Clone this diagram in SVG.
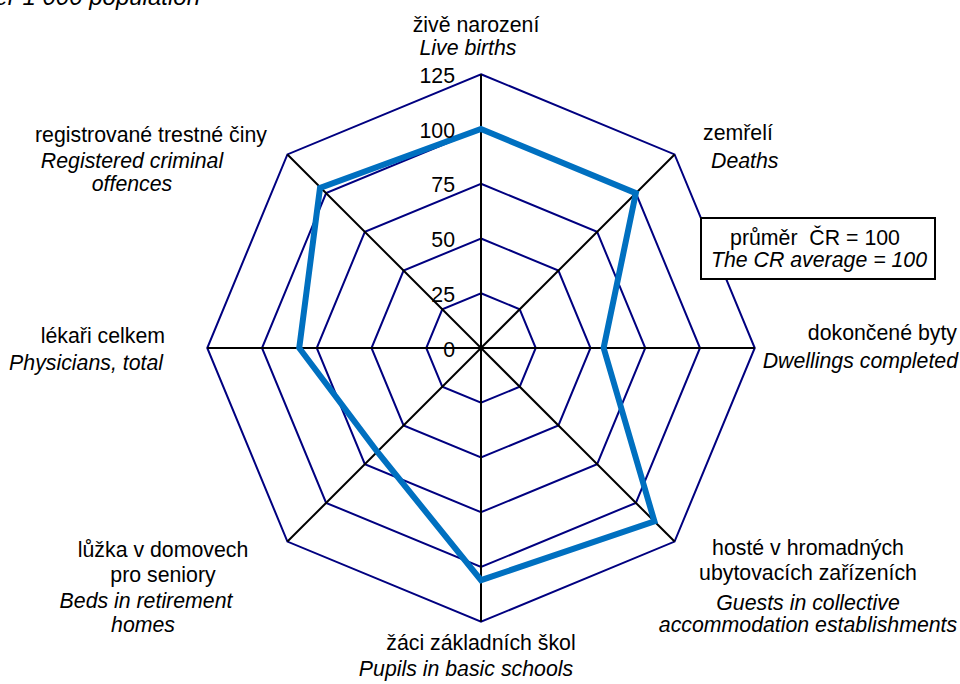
<svg xmlns="http://www.w3.org/2000/svg" width="960" height="684" viewBox="0 0 960 684">
<style>
text{font-family:"Liberation Sans",Arial,sans-serif;font-size:21.3px;fill:#000}
.i{font-style:italic}
.c{text-anchor:middle}
.e{text-anchor:end}
.ring{fill:none;stroke:#000080;stroke-width:2}
.axis{stroke:#000;stroke-width:2}
.data{fill:none;stroke:#0070C0;stroke-width:6;stroke-linejoin:miter}
</style>
<rect width="960" height="684" fill="#fff"/>
<text class="i e" x="200" y="5" style="font-size:24px">per 1 000 population</text>
<g id="rings">
<polygon class="ring" points="481,293.25 519.71,309.29 535.75,348 519.71,386.71 481,402.75 442.29,386.71 426.25,348 442.29,309.29"/>
<polygon class="ring" points="481,238.5 558.43,270.57 590.5,348 558.43,425.43 481,457.5 403.57,425.43 371.5,348 403.57,270.57"/>
<polygon class="ring" points="481,183.75 597.14,231.86 645.25,348 597.14,464.14 481,512.25 364.86,464.14 316.75,348 364.86,231.86"/>
<polygon class="ring" points="481,129 635.86,193.14 700,348 635.86,502.86 481,567 326.14,502.86 262,348 326.14,193.14"/>
<polygon class="ring" points="481,74.25 674.57,154.43 754.75,348 674.57,541.57 481,621.75 287.43,541.57 207.25,348 287.43,154.43"/>
</g>
<g id="connectors">
<line class="axis" x1="481" y1="348" x2="481" y2="74.25"/>
<line class="axis" x1="481" y1="348" x2="674.57" y2="154.43"/>
<line class="axis" x1="481" y1="348" x2="754.75" y2="348"/>
<line class="axis" x1="481" y1="348" x2="674.57" y2="541.57"/>
<line class="axis" x1="481" y1="348" x2="481" y2="621.75"/>
<line class="axis" x1="481" y1="348" x2="287.43" y2="541.57"/>
<line class="axis" x1="481" y1="348" x2="207.25" y2="348"/>
<line class="axis" x1="481" y1="348" x2="287.43" y2="154.43"/>
</g>
<g id="series">
<polygon class="data" points="481,129 635.86,193.14 603.64,348 654.44,521.44 481,580.14 377.25,451.75 299.23,348 320,188"/>
</g>
<g id="ticks">
<text class="e" x="455" y="83">125</text>
<text class="e" x="455" y="138">100</text>
<text class="e" x="455" y="192">75</text>
<text class="e" x="455" y="247">50</text>
<text class="e" x="455" y="302">25</text>
<text class="e" x="455" y="357">0</text>
</g>
<g id="live-births">
<text class="c" x="476" y="32">živě narození</text>
<text class="c i" x="468" y="55">Live births</text>
</g>
<g id="deaths">
<text x="703" y="140">zemřelí</text>
<text class="i" x="711" y="168">Deaths</text>
</g>
<g id="average">
<rect x="701" y="218" width="234" height="61" fill="#fff" stroke="#000" stroke-width="2"/>
<text class="c" x="815" y="245" xml:space="preserve">průměr  ČR = 100</text>
<text class="c i" x="819" y="267">The CR average = 100</text>
</g>
<g id="dwellings">
<text class="e" x="957" y="340">dokončené byty</text>
<text class="e i" x="958" y="368">Dwellings completed</text>
</g>
<g id="guests">
<text class="c" x="808" y="555">hosté v hromadných</text>
<text class="c" x="808" y="580">ubytovacích zařízeních</text>
<text class="c i" x="808" y="610">Guests in collective</text>
<text class="c i" x="808" y="632">accommodation establishments</text>
</g>
<g id="pupils">
<text class="c" x="481" y="650">žáci základních škol</text>
<text class="c i" x="466" y="676">Pupils in basic schools</text>
</g>
<g id="beds">
<text class="c" x="163" y="557">lůžka v domovech</text>
<text class="c" x="163" y="582">pro seniory</text>
<text class="c i" x="146" y="608">Beds in retirement</text>
<text class="c i" x="143" y="632">homes</text>
</g>
<g id="physicians">
<text class="e" x="165" y="343">lékaři celkem</text>
<text class="e i" x="163" y="370">Physicians, total</text>
</g>
<g id="crimes">
<text class="c" x="151" y="142">registrované trestné činy</text>
<text class="c i" x="132" y="168">Registered criminal</text>
<text class="c i" x="132" y="191">offences</text>
</g>
</svg>
